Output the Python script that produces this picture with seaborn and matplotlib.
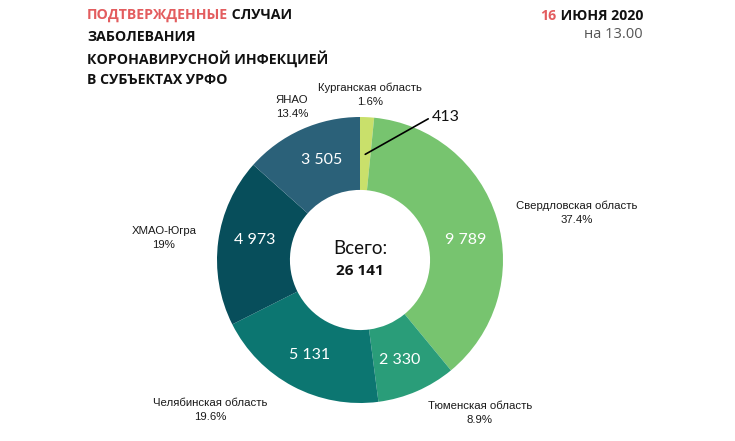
import numpy as np
import matplotlib
matplotlib.use("Agg")
import matplotlib.pyplot as plt
import seaborn as sns

# ---- data ----
regions = ["Курганская область", "Свердловская область", "Тюменская область",
           "Челябинская область", "ХМАО-Югра", "ЯНАО"]
cases = [413, 9789, 2330, 5131, 4973, 3505]
value_labels = ["413", "9 789", "2 330", "5 131", "4 973", "3 505"]
pct_labels = ["1.6%", "37.4%", "8.9%", "19.6%", "19%", "13.4%"]
total_label = "26 141"
title_red = "ПОДТВЕРЖДЕННЫЕ"
title_rest = [" СЛУЧАИ", "ЗАБОЛЕВАНИЯ", "КОРОНАВИРУСНОЙ ИНФЕКЦИЕЙ", "В СУБЪЕКТАХ УРФО"]
date_day = "16"
date_rest = " ИЮНЯ 2020"
time_label = "на 13.00"

# ---- style ----
colors = ["#c9e06b", "#77c46f", "#2a9d79", "#0c7671", "#074e5b", "#2b6179"]
label_layout = [(1.16, 86.5), (1.55, 12.3), (1.36, -52.0), (1.48, -135.0),
                (1.38, 173.6), (1.17, 114.0)]
value_angle_shift = [0, -6, -2, 0, -3, -3]
num_font = ["Lato", "Open Sans", "DejaVu Sans"]

sns.set_theme(style="white")
plt.rcParams["font.family"] = ["Liberation Sans", "DejaVu Sans"]

fig = plt.figure(figsize=(7.35, 4.41), dpi=100)
fig.patch.set_facecolor("white")
ax = fig.add_axes([217 / 735, 38 / 441, 286 / 735, 286 / 441])

wedges, _ = ax.pie(cases, colors=colors, startangle=90, counterclock=False,
                   radius=1.0, wedgeprops=dict(width=0.51, edgecolor="none"))
ax.set_aspect("equal")
ax.set_xlim(-1, 1)
ax.set_ylim(-1, 1)
ax.axis("off")

for i, w in enumerate(wedges):
    mid = (w.theta1 + w.theta2) / 2
    r, ang = label_layout[i]
    ax.text(r * np.cos(np.radians(ang)), r * np.sin(np.radians(ang)),
            f"{regions[i]}\n{pct_labels[i]}", ha="center", va="center",
            fontsize=8.2, color="#1a1a1a", linespacing=1.5, clip_on=False)
    if i == 0:
        a = np.radians(mid)
        ax.annotate(value_labels[i], xy=(0.74 * np.cos(a), 0.74 * np.sin(a)),
                    xytext=(0.5, 1.0), fontsize=11.5, color="#111111",
                    fontfamily=num_font,
                    ha="left", va="center",
                    arrowprops=dict(arrowstyle="-", color="black", lw=1.2,
                                    shrinkA=0, shrinkB=0,
                                    relpos=(0.0, 0.5)),
                    annotation_clip=False)
    else:
        a = np.radians(mid + value_angle_shift[i])
        ax.text(0.75 * np.cos(a), 0.75 * np.sin(a), value_labels[i],
                ha="center", va="center", fontsize=11.5, color="white",
                fontfamily=num_font)

ax.text(0, 0.08, "Всего:", ha="center", va="center", fontsize=13.5,
        color="#111111", fontfamily=num_font)
ax.text(0, -0.08, total_label, ha="center", va="center", fontsize=11,
        fontweight="bold", color="#111111", fontfamily=["Open Sans", "DejaVu Sans"])

# ---- title ----
tfont = dict(fontsize=10.2, fontweight="bold", fontfamily=["Open Sans", "DejaVu Sans"])
red = "#e35d5f"
x0 = 87 / 735
ys = [15, 37, 59, 80]
t = fig.text(x0, 1 - ys[0] / 441, title_red, color=red, va="center", ha="left", **tfont)
fig.canvas.draw()
bb = t.get_window_extent()
fig.text(bb.x1 / 735, 1 - ys[0] / 441, title_rest[0], color="#111111",
         va="center", ha="left", **tfont)
for line, y in zip(title_rest[1:], ys[1:]):
    fig.text(x0, 1 - y / 441, line, color="#111111", va="center", ha="left", **tfont)

# ---- date ----
d = fig.text(643 / 735, 1 - 16 / 441, date_rest, color="#111111", va="center",
             ha="right", **tfont)
fig.canvas.draw()
bb2 = d.get_window_extent()
fig.text(bb2.x0 / 735, 1 - 16 / 441, date_day, color=red, va="center",
         ha="right", **tfont)
fig.text(643 / 735, 1 - 34 / 441, time_label, color="#555555", va="center",
         ha="right", fontsize=10.5, fontfamily=["Open Sans", "DejaVu Sans"])

fig.savefig("out.png", dpi=100, facecolor="white")
